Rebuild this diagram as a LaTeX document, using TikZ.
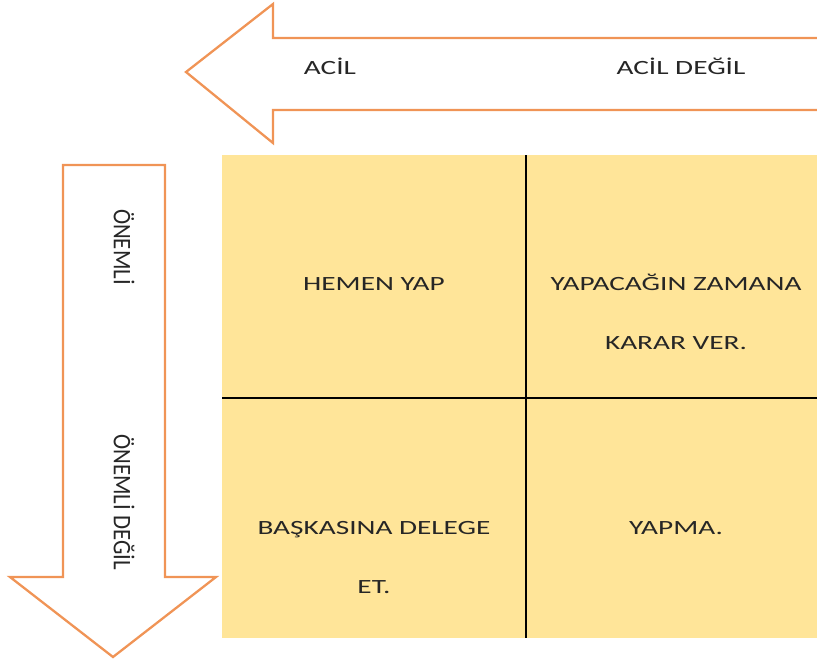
\documentclass[tikz,border=0pt]{standalone}
\usepackage{fontspec}
\setmainfont{Carlito}
\usepackage{graphicx}
\usepackage{tikz}
\usetikzlibrary{positioning}
\definecolor{arroworange}{RGB}{240,148,86}
\definecolor{cellyellow}{RGB}{255,229,153}
\newcommand{\widetext}[1]{\scalebox{1.45}[1]{\begin{tabular}{@{}c@{}}#1\end{tabular}}}
\newcommand{\downtext}[1]{\scalebox{1.25}[1.13]{\rotatebox{-90}{#1}}}
\tikzstyle{bigarrow} = [draw=arroworange, line width=1.3pt, fill=white, line join=miter]
\tikzstyle{label} = [font=\fontsize{11.5}{33.5}\selectfont, text=black!85, inner sep=0pt]
\tikzstyle{divider} = [draw=black, line width=0.8pt]

\begin{document}
\begin{tikzpicture}[x=0.02cm, y=-0.02cm]
\useasboundingbox (0,0) rectangle (817,660);

% horizontal arrow (urgent -> not urgent)
\draw [bigarrow] (830,38) -- (273,38) -- (273,4) -- (186,72) -- (273,143) -- (273,110) -- (830,110);
\node (acil) [label] at (330,63) {\widetext{ACİL}};
\node (acildegil) [label] at (681,63) {\widetext{ACİL DEĞİL}};

% vertical arrow (important -> not important)
\draw [bigarrow] (63,165) -- (165,165) -- (165,577) -- (216,577) -- (113,657) -- (10,577) -- (63,577) -- cycle;
\node (onemli) [label] at (124,247) {\downtext{ÖNEMLİ}};
\node (onemlidegil) [label] at (124,502) {\downtext{ÖNEMLİ DEĞİL}};

% the four quadrants
\fill [cellyellow] (222,155) rectangle (817,638);
\coordinate (top) at (526,155);
\coordinate (bottom) at (526,638);
\coordinate (left) at (222,398);
\coordinate (right) at (817,398);
\draw [divider] (top) -- (bottom);
\draw [divider] (left) -- (right);

\node (doit) [label] at (374,279) {\widetext{HEMEN YAP}};
\node (plan) [label] at (676,308) {\widetext{YAPACAĞIN ZAMANA\\KARAR VER.}};
\node (delegate) [label] at (374,552) {\widetext{BAŞKASINA DELEGE\\ET.}};
\node (drop) [label] at (676,523) {\widetext{YAPMA.}};

\end{tikzpicture}
\end{document}
